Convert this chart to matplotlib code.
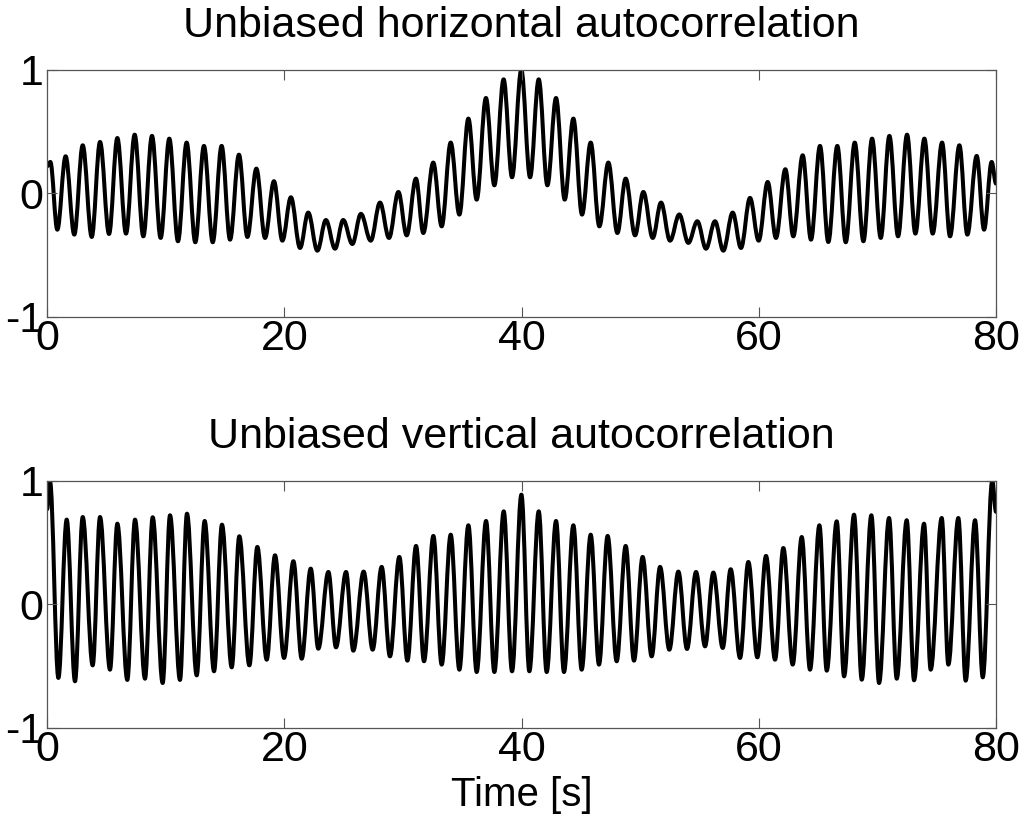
import matplotlib.pyplot as plt
from matplotlib.path import Path
from matplotlib.patches import PathPatch

plt.rcParams['font.family'] = ['Liberation Sans', 'DejaVu Sans']
plt.rcParams['axes.unicode_minus'] = False

# 上段: 水平方向の自己相関 (ピークと谷を画像から読み取り)
h_start = (0.0, 0.22)
h_end = (80.0, 0.08)
h_peak_t = [0.28, 1.57, 3.01, 4.47, 5.93, 7.39, 8.85, 10.31, 11.77, 13.23, 14.72, 16.18, 17.65, 19.13,
            20.56, 22.02, 23.51, 24.97, 26.46, 28.07, 29.62, 31.10, 32.56, 34.03, 35.52, 37.00, 38.49,
            39.98, 41.45, 42.91, 44.37, 45.83, 47.32, 48.78, 50.27, 51.76, 53.30, 54.82, 56.31, 57.80,
            59.26, 60.75, 62.24, 63.70, 65.16, 66.62, 68.09, 69.55, 71.01, 72.50, 73.96, 75.45, 76.91,
            78.37, 79.63]
h_peak_v = [0.255, 0.301, 0.390, 0.417, 0.449, 0.476, 0.466, 0.444, 0.412, 0.385, 0.385, 0.314, 0.201,
            0.099, -0.031, -0.155, -0.215, -0.215, -0.165, -0.074, 0.012, 0.120, 0.250, 0.412, 0.606,
            0.773, 0.924, 1.000, 0.924, 0.773, 0.606, 0.412, 0.250, 0.120, 0.012, -0.074, -0.170,
            -0.225, -0.225, -0.155, -0.036, 0.093, 0.196, 0.309, 0.385, 0.385, 0.412, 0.444, 0.466,
            0.476, 0.444, 0.412, 0.390, 0.304, 0.255]
h_trough_t = [0.87, 2.30, 3.77, 5.23, 6.66, 8.12, 9.58, 11.04, 12.50, 13.97, 15.43, 16.89, 18.38, 19.84,
              21.33, 22.79, 24.28, 25.74, 27.29, 28.83, 30.32, 31.72, 33.27, 34.76, 36.22, 37.71, 39.20,
              40.72, 42.18, 43.64, 45.10, 46.56, 48.08, 49.57, 51.06, 52.52, 54.06, 55.55, 57.01, 58.50,
              59.99, 61.45, 62.91, 64.40, 65.86, 67.33, 68.82, 70.28, 71.74, 73.20, 74.66, 76.12, 77.58,
              78.99]
h_trough_v = [-0.293, -0.333, -0.352, -0.328, -0.325, -0.347, -0.360, -0.387, -0.395, -0.395, -0.374,
              -0.352, -0.360, -0.382, -0.441, -0.463, -0.447, -0.409, -0.382, -0.360, -0.339, -0.320,
              -0.266, -0.171, -0.050, 0.066, 0.131, 0.131, 0.066, -0.050, -0.171, -0.266, -0.320,
              -0.339, -0.360, -0.382, -0.400, -0.447, -0.463, -0.441, -0.382, -0.360, -0.347, -0.374,
              -0.393, -0.395, -0.387, -0.360, -0.347, -0.325, -0.325, -0.347, -0.333, -0.293]

# 下段: 垂直方向の自己相関
v_start = (0.0, 0.77)
v_end = (80.0, 0.75)
v_peak_t = [0.25, 1.66, 3.01, 4.47, 5.93, 7.42, 8.91, 10.37, 11.80, 13.29, 14.75, 16.21, 17.73, 19.22,
            20.77, 22.23, 23.72, 25.21, 26.69, 28.21, 29.70, 31.11, 32.57, 34.03, 35.52, 37.01, 38.50,
            39.99, 41.45, 42.91, 44.37, 45.83, 47.26, 48.78, 50.21, 51.68, 53.22, 54.71, 56.17, 57.63,
            59.12, 60.61, 62.07, 63.62, 65.11, 66.57, 68.03, 69.49, 70.98, 72.47, 73.93, 75.42, 76.82,
            78.23, 79.68]
v_peak_v = [1.000, 0.687, 0.708, 0.708, 0.654, 0.687, 0.706, 0.722, 0.735, 0.676, 0.646, 0.552, 0.466,
            0.398, 0.350, 0.290, 0.263, 0.263, 0.266, 0.304, 0.385, 0.474, 0.555, 0.565, 0.641, 0.676,
            0.754, 0.889, 0.754, 0.676, 0.641, 0.565, 0.555, 0.474, 0.385, 0.304, 0.266, 0.263, 0.258,
            0.285, 0.344, 0.393, 0.457, 0.546, 0.641, 0.673, 0.727, 0.722, 0.700, 0.682, 0.654, 0.700,
            0.700, 0.682, 1.000]
v_trough_t = [0.96, 2.36, 3.85, 5.31, 6.77, 8.26, 9.75, 11.21, 12.62, 14.08, 15.57, 17.06, 18.52, 19.98,
              21.47, 22.87, 24.36, 25.82, 27.45, 28.91, 30.38, 31.78, 33.27, 34.76, 36.22, 37.71, 39.20,
              40.66, 42.12, 43.58, 45.07, 46.53, 48.02, 49.48, 50.97, 52.46, 53.95, 55.47, 56.96, 58.42,
              59.88, 61.37, 62.86, 64.32, 65.73, 67.19, 68.68, 70.14, 71.63, 73.09, 74.49, 75.98, 77.44,
              78.88]
v_trough_v = [-0.595, -0.622, -0.493, -0.528, -0.611, -0.601, -0.636, -0.611, -0.574, -0.541, -0.509,
              -0.493, -0.447, -0.433, -0.439, -0.358, -0.347, -0.374, -0.366, -0.420, -0.455, -0.460,
              -0.487, -0.528, -0.547, -0.547, -0.541, -0.541, -0.547, -0.547, -0.528, -0.487, -0.460,
              -0.455, -0.420, -0.366, -0.360, -0.339, -0.352, -0.433, -0.428, -0.447, -0.487, -0.528,
              -0.536, -0.582, -0.609, -0.636, -0.601, -0.614, -0.528, -0.487, -0.617, -0.590]


def curve(start, end, pt, pv, tt, tv):
    # ピーク・谷を順に並べ、水平接線のベジェ曲線でつなぐ
    pts = [start] + sorted(list(zip(pt, pv)) + list(zip(tt, tv))) + [end]
    verts = [pts[0]]
    codes = [Path.MOVETO]
    for (t0, y0), (t1, y1) in zip(pts[:-1], pts[1:]):
        d = (t1 - t0) * 0.3634
        verts += [(t0 + d, y0), (t1 - d, y1), (t1, y1)]
        codes += [Path.CURVE4] * 3
    return Path(verts, codes)


fig = plt.figure(figsize=(10.24, 8.21), dpi=100)
ax1 = fig.add_axes([0.0459, 0.6139, 0.9268, 0.3009])
ax2 = fig.add_axes([0.0459, 0.1133, 0.9268, 0.3009])

panels = [
    (ax1, 'Unbiased horizontal autocorrelation', curve(h_start, h_end, h_peak_t, h_peak_v, h_trough_t, h_trough_v)),
    (ax2, 'Unbiased vertical autocorrelation', curve(v_start, v_end, v_peak_t, v_peak_v, v_trough_t, v_trough_v)),
]

for ax, title, path in panels:
    ax.add_patch(PathPatch(path, fill=False, edgecolor='black', lw=2.9, capstyle='round', joinstyle='round'))
    ax.set_xlim(0, 80)
    ax.set_ylim(-1, 1)
    ax.set_xticks([0, 20, 40, 60, 80])
    ax.set_yticks([-1, 0, 1])
    ax.set_yticklabels(['-1', '0', '1'])
    ax.tick_params(direction='in', top=True, right=True, length=7, width=0.8, color='#555555',
                   labelsize=31)
    ax.tick_params(axis='x', pad=1.5)
    ax.tick_params(axis='y', pad=2.5)
    for s in ax.spines.values():
        s.set_color('#555555')
        s.set_linewidth(0.9)
    ax.set_title(title, fontsize=31, pad=24)

ax2.set_xlabel('Time [s]', fontsize=29, labelpad=4)

fig.savefig('out.png', dpi=100)
